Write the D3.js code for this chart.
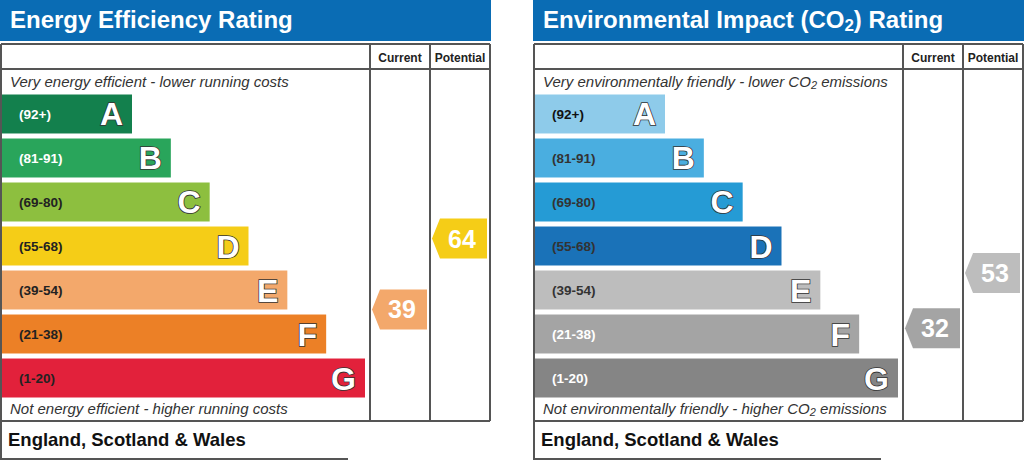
<!DOCTYPE html>
<html>
<head>
<meta charset="utf-8">
<script src="https://cdn.jsdelivr.net/npm/d3@7"></script>
<style>
  body { margin: 0; background: #fff; }
  svg { display: block; font-family: "Liberation Sans", Arial, sans-serif; }
</style>
</head>
<body>
<div id="container"></div>
<script>
/* DATA */
const bands = ["A", "B", "C", "D", "E", "F", "G"];
const bandRanges = ["(92+)", "(81-91)", "(69-80)", "(55-68)", "(39-54)", "(21-38)", "(1-20)"];
const bandLow = [92, 81, 69, 55, 39, 21, 1];
const bandHigh = [100, 91, 80, 68, 54, 38, 20];
const columns = ["Current", "Potential"];
const efficiencyRatings = [39, 64];
const impactRatings = [32, 53];
const footerText = "England, Scotland & Wales";

/* CONSTANTS */
const width = 1024, height = 460;
const tableTop = 44, headRow = 69, tableBottom = 421, tableRight = 490;

const efficiencyColours = ["#13804d", "#29a55b", "#8dbf3f", "#f5cd17", "#f3a86b", "#ec8026", "#e2213b"];
const efficiencyLabelColours = ["#fff", "#fff", "#222", "#222", "#222", "#222", "#222"];
const impactColours = ["#8ecbea", "#4aaee0", "#259bd5", "#1a72b8", "#bdbdbd", "#a4a4a4", "#858585"];
const impactLabelColours = ["#111", "#333", "#333", "#333", "#333", "#fff", "#fff"];

// SCALES
const y = d3.scaleBand()
  .domain(bands)
  .range([94.5, 397.5])
  .paddingInner(0.114);

const barEnd = d3.scaleLinear()
  .domain([0, bands.length - 1])
  .range([132, 365]);

const col = d3.scaleBand()
  .domain(columns)
  .range([370, tableRight]);

// where a rating sits inside its own band
function ratingY(v) {
  const i = bandLow.findIndex(l => v >= l);
  const inBand = d3.scaleLinear()
    .domain([bandHigh[i], bandLow[i]])
    .range([y(bands[i]), y(bands[i]) + y.bandwidth()]);
  return { cy: inBand(v), band: i };
}

const svg = d3.select("#container")
  .append("svg")
  .attr("width", width)
  .attr("height", height);

// text with optional subscript parts: [["CO"], ["2", true]]
function richText(sel, parts, subSize, shift) {
  parts.forEach(([t, sub]) => {
    const ts = sel.append("tspan").text(t);
    if (sub) ts.attr("font-size", subSize).attr("baseline-shift", -shift);
  });
}

function drawChart(offsetX, cfg) {
  const g = svg.append("g").attr("transform", `translate(${offsetX},0)`);

  // header
  g.append("rect")
    .attr("x", 0).attr("y", 0)
    .attr("width", tableRight + 1).attr("height", 41)
    .attr("fill", "#0a6cb4");
  g.append("text")
    .attr("x", 10).attr("y", 28)
    .attr("fill", "#fff")
    .attr("font-size", 24).attr("font-weight", "bold")
    .call(richText, cfg.title, 17, 3);

  // table lines
  const line = (x1, y1, x2, y2) => g.append("line")
    .attr("x1", x1).attr("y1", y1).attr("x2", x2).attr("y2", y2)
    .attr("stroke", "#555").attr("stroke-width", 2);

  line(1, tableTop, tableRight, tableTop);
  line(1, headRow, tableRight, headRow);
  line(1, tableBottom, tableRight, tableBottom);
  line(1, tableTop, 1, 459);
  line(tableRight, tableTop, tableRight, tableBottom);
  columns.forEach(c => line(col(c), tableTop, col(c), tableBottom));
  line(0, 459, 348, 459);

  g.selectAll(".colHead")
    .data(columns)
    .join("text")
    .attr("class", "colHead")
    .attr("x", d => col(d) + col.bandwidth() / 2)
    .attr("y", 62)
    .attr("text-anchor", "middle")
    .attr("font-size", 12).attr("font-weight", "bold")
    .attr("fill", "#222")
    .text(d => d);

  // top and bottom captions
  g.append("text")
    .attr("x", 10).attr("y", 87)
    .attr("font-size", 15).attr("font-style", "italic")
    .attr("fill", "#333")
    .call(richText, cfg.topText, 11, 2);
  g.append("text")
    .attr("x", 10).attr("y", 414)
    .attr("font-size", 15).attr("font-style", "italic")
    .attr("fill", "#333")
    .call(richText, cfg.bottomText, 11, 2);

  // bands
  const band = g.selectAll(".band")
    .data(bands)
    .join("g")
    .attr("class", "band");

  band.append("rect")
    .attr("x", 2)
    .attr("y", d => y(d))
    .attr("width", (d, i) => barEnd(i) - 2)
    .attr("height", y.bandwidth())
    .attr("fill", (d, i) => cfg.colours[i]);

  band.append("text")
    .attr("x", 19)
    .attr("y", d => y(d) + y.bandwidth() / 2 + 5)
    .attr("font-size", 13.5).attr("font-weight", "bold")
    .attr("fill", (d, i) => cfg.labelColours[i])
    .text((d, i) => bandRanges[i]);

  band.append("text")
    .attr("x", (d, i) => barEnd(i) - 9)
    .attr("y", d => y(d) + y.bandwidth() / 2 + 11.5)
    .attr("text-anchor", "end")
    .attr("font-size", 32).attr("font-weight", "bold")
    .attr("fill", "#fff")
    .attr("stroke", "#333").attr("stroke-width", 1.6)
    .attr("paint-order", "stroke")
    .text(d => d);

  // rating arrows
  const arrows = g.selectAll(".arrow")
    .data(columns.map((c, i) => ({ column: c, value: cfg.ratings[i], ...ratingY(cfg.ratings[i]) })))
    .join("g")
    .attr("class", "arrow");

  arrows.append("path")
    .attr("d", d => {
      const tip = col(d.column) + 2, right = col(d.column) + col.bandwidth() - 3;
      const p = d3.path();
      p.moveTo(tip, d.cy);
      p.lineTo(tip + 8, d.cy - 20);
      p.lineTo(right, d.cy - 20);
      p.lineTo(right, d.cy + 20);
      p.lineTo(tip + 8, d.cy + 20);
      p.closePath();
      return p.toString();
    })
    .attr("fill", d => cfg.colours[d.band]);

  arrows.append("text")
    .attr("x", d => col(d.column) + col.bandwidth() / 2 + 2)
    .attr("y", d => d.cy + 9)
    .attr("text-anchor", "middle")
    .attr("font-size", 25).attr("font-weight", "bold")
    .attr("fill", "#fff")
    .text(d => d.value);

  // footer
  g.append("text")
    .attr("x", 8).attr("y", 446)
    .attr("font-size", 18.5).attr("font-weight", "bold")
    .attr("fill", "#111")
    .text(footerText);
}

drawChart(0, {
  title: [["Energy Efficiency Rating"]],
  topText: [["Very energy efficient - lower running costs"]],
  bottomText: [["Not energy efficient - higher running costs"]],
  colours: efficiencyColours,
  labelColours: efficiencyLabelColours,
  ratings: efficiencyRatings
});

drawChart(533, {
  title: [["Environmental Impact (CO"], ["2", true], [") Rating"]],
  topText: [["Very environmentally friendly - lower CO"], ["2", true], [" emissions"]],
  bottomText: [["Not environmentally friendly - higher CO"], ["2", true], [" emissions"]],
  colours: impactColours,
  labelColours: impactLabelColours,
  ratings: impactRatings
});
</script>
</body>
</html>
